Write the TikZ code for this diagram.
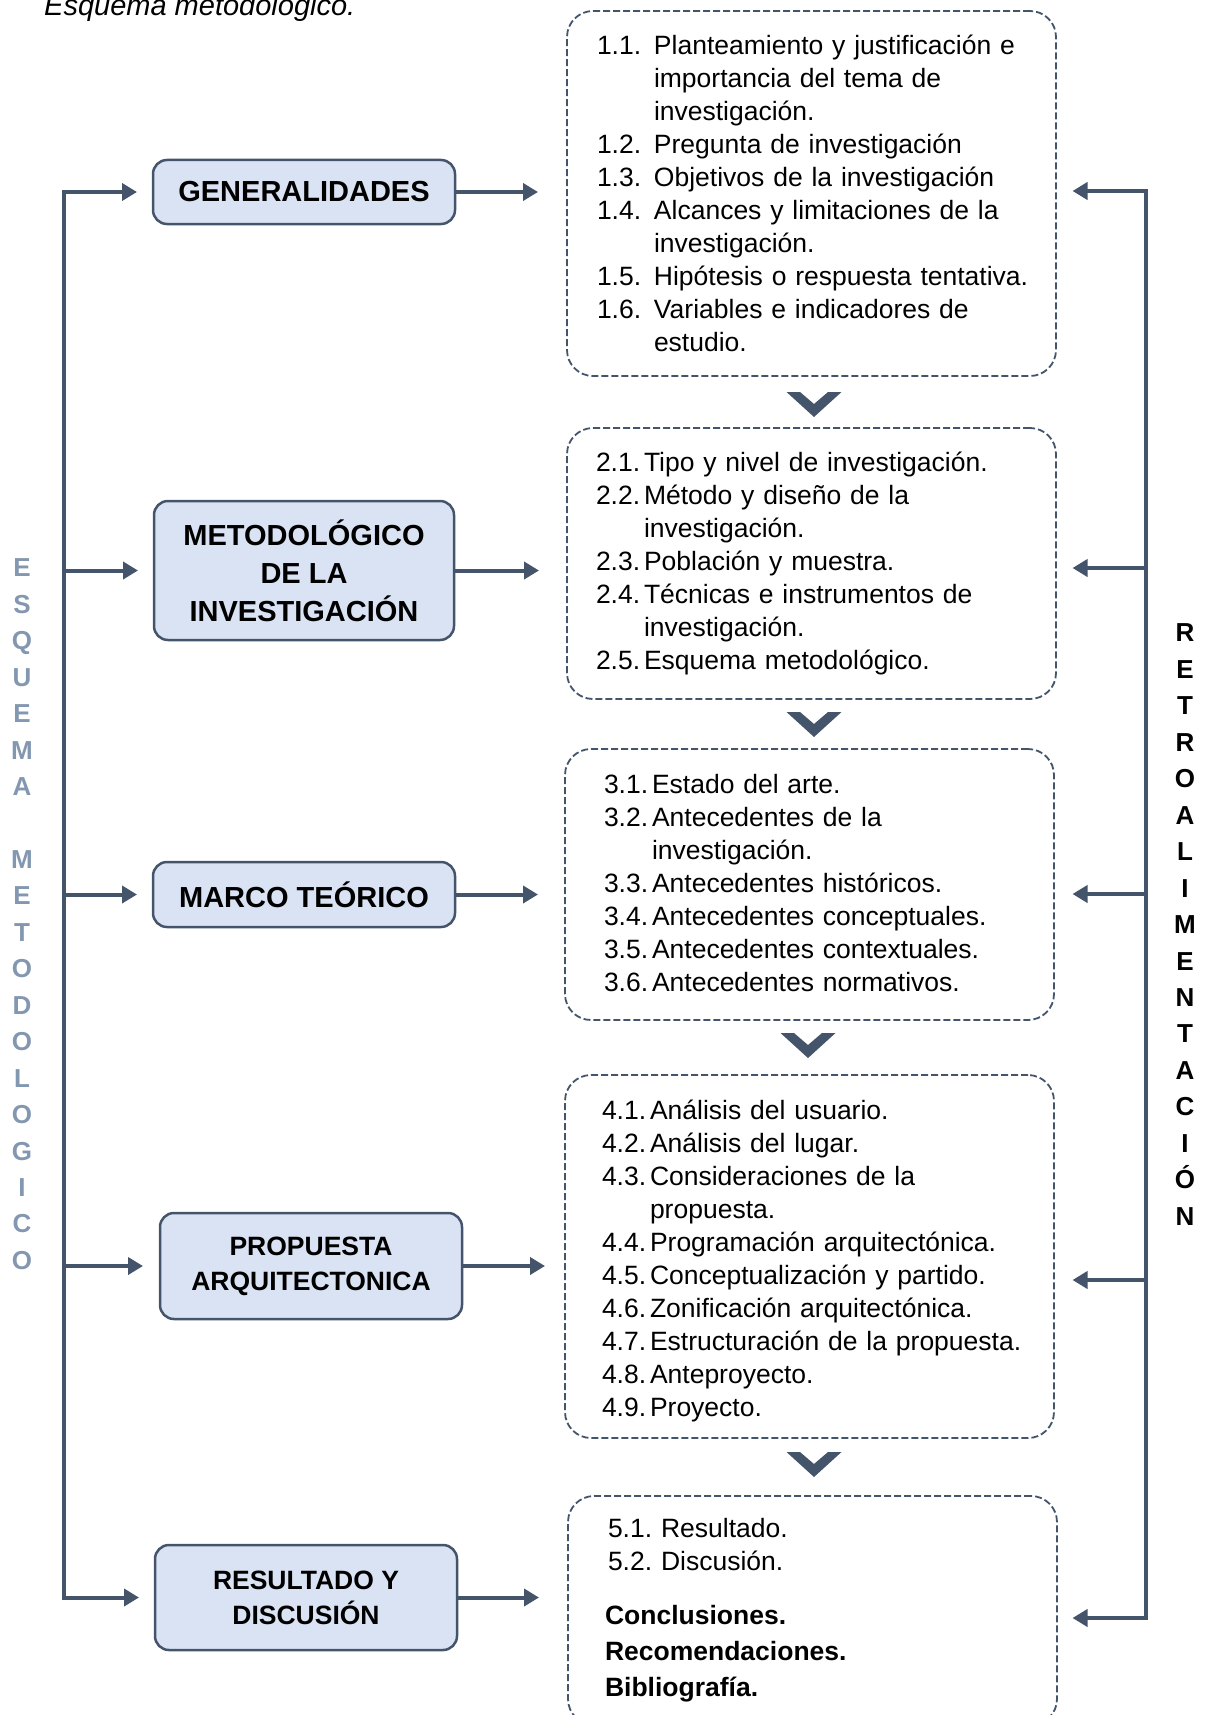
\documentclass[tikz,border=0pt]{standalone}
\usepackage{fontspec}
\setmainfont{Liberation Sans}
\usepackage{tikz}
\usetikzlibrary{positioning}
\usetikzlibrary{arrows.meta}
\definecolor{oscuro}{HTML}{44546A}
\definecolor{celeste}{HTML}{DAE3F3}
\definecolor{grisazul}{HTML}{8497B0}
\newcommand{\Chevron}[1]{\fill[oscuro] #1 ++(-27.5,0) -- ++(13.5,0) -- ++(14,12) -- ++(14,-12) -- ++(13.5,0) -- ++(-27.5,25) -- cycle;}

\begin{document}
\begin{tikzpicture}[x=1pt, y=-1pt,
	caja/.style={draw=oscuro, fill=celeste, line width=2.5pt, rounded corners=14pt, minimum width=302pt, inner sep=0pt, outer sep=0pt, align=center, font=\bfseries\fontsize{29}{35}\selectfont},
	lista/.style={draw=oscuro, dash pattern=on 7pt off 3pt, line width=1.8pt, rounded corners=26pt, minimum width=489pt, inner xsep=30pt, text width=429pt, inner ysep=0pt, outer sep=0pt, align=left, font=\fontsize{26.5}{33}\selectfont},
	flecha/.style={draw=oscuro, line width=4pt, -{Triangle[length=15pt,width=17pt]}},
	linea/.style={draw=oscuro, line width=4pt, line cap=rect}]
			\useasboundingbox (0,0) rectangle (1211,1715);
			\clip (0,0) rectangle (1211,1715);
			\node[anchor=base west, inner sep=0pt, font=\itshape\fontsize{29}{35}\selectfont] (Titulo) at (44,16) {Esquema metodológico.};
			\node[caja, minimum height=64pt] (Gen) at (304,192) {GENERALIDADES};
			\node[caja, minimum height=139pt, minimum width=300pt, below=277pt of Gen, font=\bfseries\fontsize{29}{38}\selectfont] (Metod) {METODOLÓGICO\\DE LA\\INVESTIGACIÓN};
			\node[caja, minimum height=65pt, below=222pt of Metod] (Marco) {MARCO TEÓRICO};
			\node[caja, minimum height=106pt, below=286pt of Marco, xshift=7pt, font=\bfseries\fontsize{26.5}{35}\selectfont] (Prop) {PROPUESTA\\ARQUITECTONICA};
			\node[caja, minimum height=105pt, below=226pt of Prop, xshift=-5pt, font=\bfseries\fontsize{26.5}{35}\selectfont] (Result) {RESULTADO Y\\DISCUSIÓN};
			\node[lista, minimum height=365pt] (Lista1) at (811.5,193.5) {\begin{tabular}{@{}p{57pt}@{}l@{}}
				\noalign{\vskip 6pt}
				1.1. & Planteamiento y justificación e\\
				& importancia del tema de\\
				& investigación.\\
				1.2. & Pregunta de investigación\\
				1.3. & Objetivos de la investigación\\
				1.4. & Alcances y limitaciones de la\\
				& investigación.\\
				1.5. & Hipótesis o respuesta tentativa.\\
				1.6. & Variables e indicadores de\\
				& estudio.
			\end{tabular}};
			\node[lista, minimum height=271pt, below=52pt of Lista1, inner xsep=29pt, text width=431pt] (Lista2) {\begin{tabular}{@{}p{48pt}@{}l@{}}
				2.1. & Tipo y nivel de investigación.\\
				2.2. & Método y diseño de la\\
				& investigación.\\
				2.3. & Población y muestra.\\
				2.4. & Técnicas e instrumentos de\\
				& investigación.\\
				2.5. & Esquema metodológico.
			\end{tabular}};
			\node[lista, minimum height=271pt, below=50pt of Lista2, xshift=-2pt, inner xsep=39pt, text width=411pt] (Lista3) {\begin{tabular}{@{}p{48pt}@{}l@{}}
				\noalign{\vskip 2pt}
				3.1. & Estado del arte.\\
				3.2. & Antecedentes de la\\
				& investigación.\\
				3.3. & Antecedentes históricos.\\
				3.4. & Antecedentes conceptuales.\\
				3.5. & Antecedentes contextuales.\\
				3.6. & Antecedentes normativos.
			\end{tabular}};
			\node[lista, minimum height=363pt, below=55pt of Lista3, inner xsep=37pt, text width=415pt] (Lista4) {\begin{tabular}{@{}p{48pt}@{}l@{}}
				\noalign{\vskip 9pt}
				4.1. & Análisis del usuario.\\
				4.2. & Análisis del lugar.\\
				4.3. & Consideraciones de la\\
				& propuesta.\\
				4.4. & Programación arquitectónica.\\
				4.5. & Conceptualización y partido.\\
				4.6. & Zonificación arquitectónica.\\
				4.7. & Estructuración de la propuesta.\\
				4.8. & Anteproyecto.\\
				4.9. & Proyecto.
			\end{tabular}};
			\node[lista, minimum height=229pt, below=58pt of Lista4, xshift=3pt, inner xsep=40pt, text width=409pt] (Lista5) {\begin{tabular}{@{}l@{}}
				5.1.\ Resultado.\\
				5.2.\ Discusión.\\[21pt]
				\hspace*{-3pt}\textbf{Conclusiones.}\\[3pt]
				\hspace*{-3pt}\textbf{Recomendaciones.}\\[3pt]
				\hspace*{-3pt}\textbf{Bibliografía.}
			\end{tabular}};
			\Chevron{(814,392)}
			\Chevron{(814,712)}
			\Chevron{(808,1033)}
			\Chevron{(814,1452)}
			\coordinate (EsqA) at (63.5,192);
			\coordinate (EsqB) at (EsqA |- Result.west);
			\draw[linea] (EsqA) -- (EsqB);
			\draw[flecha] (EsqA |- Gen.west) -- ([xshift=-16pt]Gen.west);
			\draw[flecha] (EsqA |- Metod.west) -- ([xshift=-16pt]Metod.west);
			\draw[flecha] (EsqA |- Marco.west) -- ([xshift=-16pt]Marco.west);
			\draw[flecha] (EsqA |- Prop.west) -- ([xshift=-17pt]Prop.west);
			\draw[flecha] (EsqB) -- ([xshift=-16pt]Result.west);
			\draw[flecha] (Gen.east) -- ++(83,0);
			\draw[flecha] (Metod.east) -- ++(85,0);
			\draw[flecha] (Marco.east) -- ++(83,0);
			\draw[flecha] (Prop.east) -- ++(83,0);
			\draw[flecha] (Result.east) -- ++(82,0);
			\coordinate (Retro1) at (1145.5,191);
			\coordinate (Retro2) at (1145.5,568);
			\coordinate (Retro3) at (1145.5,894);
			\coordinate (Retro4) at (1145.5,1280);
			\coordinate (Retro5) at (1145.5,1618);
			\draw[linea] (Retro1) -- (Retro5);
			\draw[flecha] (Retro1) -- ++(-73,0);
			\draw[flecha] (Retro2) -- ++(-73,0);
			\draw[flecha] (Retro3) -- ++(-73,0);
			\draw[flecha] (Retro4) -- ++(-73,0);
			\draw[flecha] (Retro5) -- ++(-73,0);
			\node[text=grisazul, font=\bfseries\fontsize{26}{36.45}\selectfont, align=center, inner sep=0pt] (Esquema) at (22,914.3) {E\\S\\Q\\U\\E\\M\\A\\~\\M\\E\\T\\O\\D\\O\\L\\O\\G\\I\\C\\O};
			\node[font=\bfseries\fontsize{26}{36.45}\selectfont, align=center, inner sep=0pt] (Retroal) at (1185,924.6) {R\\E\\T\\R\\O\\A\\L\\I\\M\\E\\N\\T\\A\\C\\I\\Ó\\N};
		\end{tikzpicture}
\end{document}
